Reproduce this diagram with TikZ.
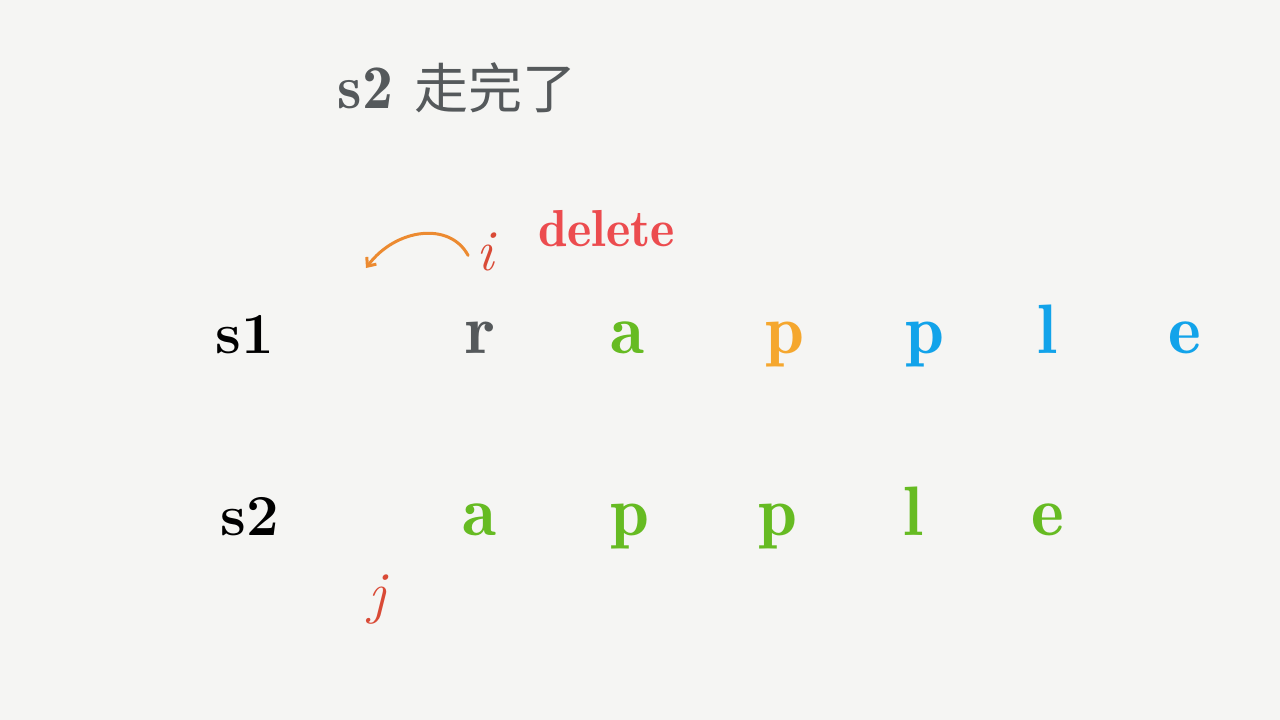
\documentclass[tikz,border=0pt]{standalone}
\usepackage{fontspec}
\newfontfamily\cjk{Noto Sans CJK SC}
\newfontfamily\demi{Latin Modern Roman Demi}
\usetikzlibrary{arrows.meta, positioning}

\definecolor{paper}{HTML}{F5F5F3}
\definecolor{inkgray}{HTML}{55595B}
\definecolor{delred}{HTML}{EC4C4F}
\definecolor{ptrred}{HTML}{D94A36}
\definecolor{moveorange}{HTML}{EC8A30}
\definecolor{leafgreen}{HTML}{66BB22}
\definecolor{porange}{HTML}{F5A72E}
\definecolor{skyblue}{HTML}{12A3EA}

\begin{document}
\begin{tikzpicture}[
        x = 1pt, y = -1pt,
        >= {Straight Barb[length = 7pt, width = 12pt]},
        every node/.style = {anchor = base, inner sep = 0pt},
        rowname/.style = {font = \fontsize{58}{60}\selectfont\bfseries, text = black},
        letter/.style = {font = \demi\fontsize{70}{74}\selectfont},
        ptr/.style = {font = \fontsize{58}{64}\selectfont\itshape, text = ptrred},
        move/.style = {->, draw = moveorange, line width = 3pt, line cap = round}
    ]

        \fill[paper] (0,0) rectangle (1280,720);

        \node[text = inkgray] (title) at (457,108)
            {\demi\fontsize{62}{66}\selectfont s2\ {\cjk\fontsize{54}{60}\selectfont 走完了}};
        \node[text = delred, font = \demi\fontsize{52}{60}\selectfont] (op) at (607,246) {delete};

        % pointers
        \node[ptr] (i) at (485,270) {i};
        \node[ptr] (j) at (377,612) {j};
        \coordinate (iback) at (366,268);
        \draw[move] ([xshift = -8pt, yshift = -4pt]i.west)
            .. controls +(-18,-34) and +(30,-40) .. (iback);

        % s1
        \node[rowname] (s1) at (245,353) {s1};
        \node[letter, text = inkgray] (s1r) at (480,353) {r};
        \node[letter, text = leafgreen] (s1a) at (628,353) {a};
        \node[letter, text = porange] (s1p1) at (785,353) {p};
        \node[letter, text = skyblue] (s1p2) at (925,353) {p};
        \node[letter, text = skyblue] (s1l) at (1047,353) {l};
        \node[letter, text = skyblue] (s1e) at (1185,353) {e};

        % s2
        \node[rowname] (s2) at (250,535) {s2};
        \node[letter, text = leafgreen] (s2a) at (480,535) {a};
        \node[letter, text = leafgreen] (s2p1) at (630,535) {p};
        \node[letter, text = leafgreen] (s2p2) at (778,535) {p};
        \node[letter, text = leafgreen] (s2l) at (913,535) {l};
        \node[letter, text = leafgreen] (s2e) at (1048,535) {e};

\end{tikzpicture}
\end{document}
